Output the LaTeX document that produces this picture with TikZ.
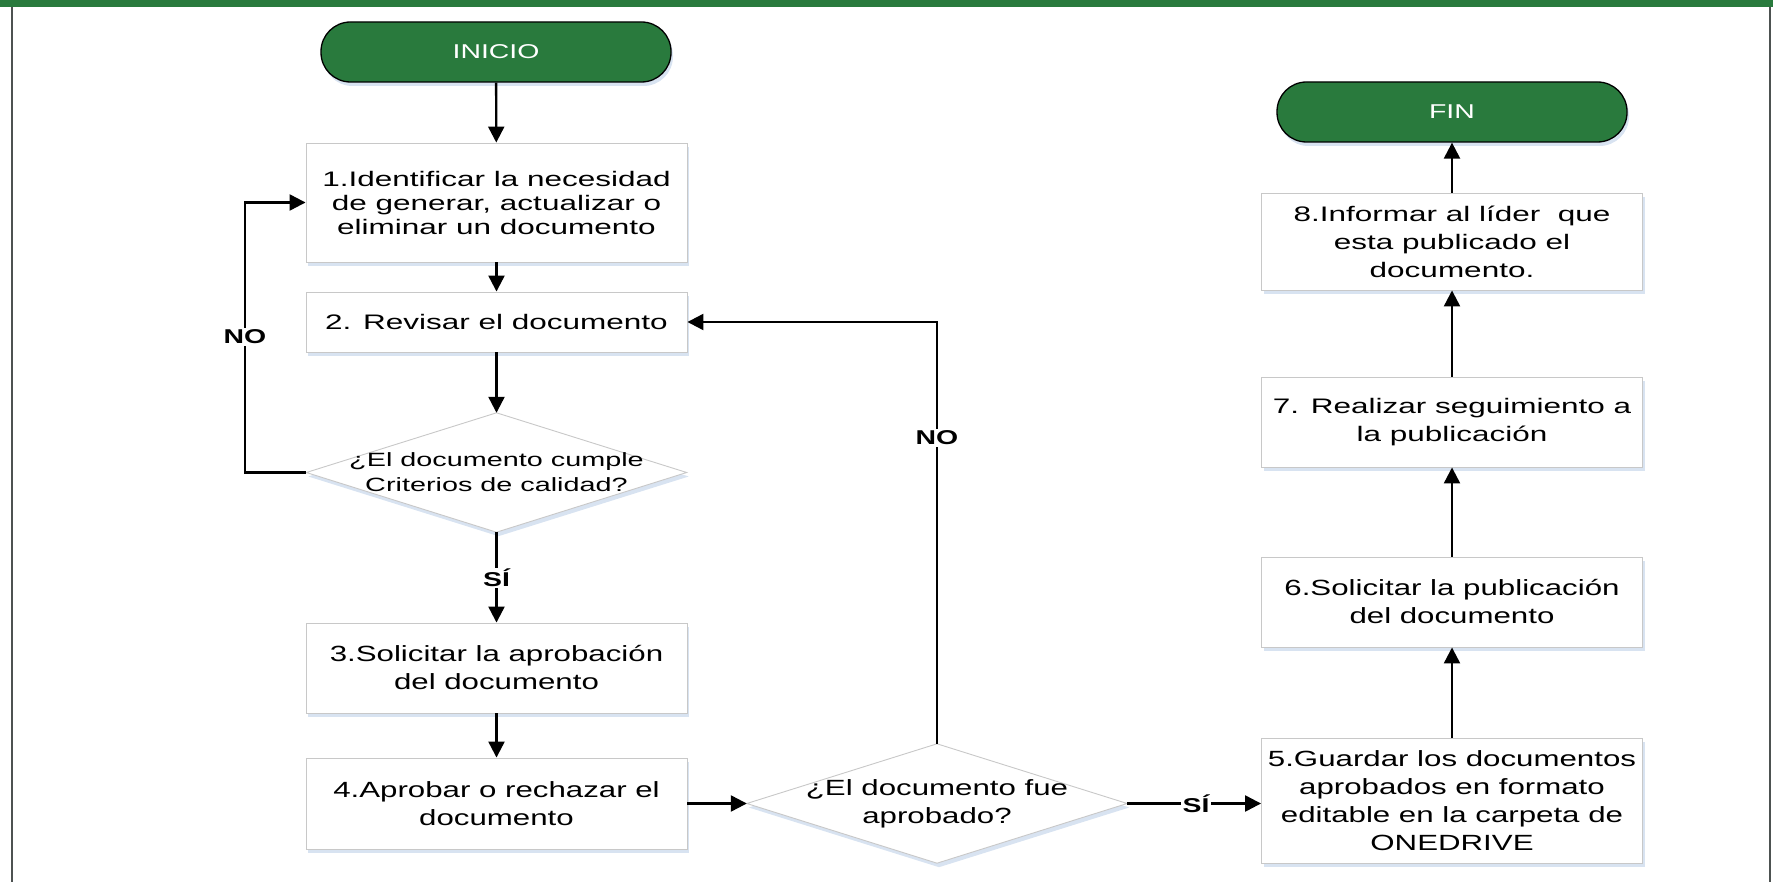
\documentclass[tikz,border=0pt]{standalone}
\usepackage{fontspec}
\setmainfont{Liberation Sans}
\newfontfamily\fA{Liberation Sans}[FakeStretch=1.5]
\newfontfamily\fB{Liberation Sans}[FakeStretch=1.42]
\usetikzlibrary{arrows.meta,shadows,backgrounds}
\definecolor{vgreen}{RGB}{41,122,61}
\definecolor{frameg}{RGB}{77,82,81}
\definecolor{boxline}{RGB}{200,200,200}
\definecolor{shadowb}{RGB}{190,208,232}
\begin{document}
\begin{tikzpicture}[x=1pt,y=-1pt,
  shad/.style={drop shadow={shadow xshift=2pt,shadow yshift=-4pt,fill=shadowb,opacity=0.6}},
  proc/.style={shad,draw=boxline,line width=0.9pt,fill=white,minimum width=381pt,inner sep=0pt,align=center},
  gA/.style={font=\fA\fontsize{21}{28}\selectfont},
  gB/.style={font=\fB\fontsize{22}{28}\selectfont},
  term/.style={shad,draw=black,line width=1.3pt,fill=vgreen,text=white,minimum width=350pt,minimum height=60pt,rounded corners=29.5pt,inner sep=0pt,font=\fB\fontsize{20}{24}\selectfont},
  dtext/.style={rectangle,inner sep=0pt,minimum width=380pt,minimum height=119pt,align=center},
  dshape/.style={shad,draw=boxline,line width=0.9pt,fill=white},
  arr/.style={line width=2.3pt,-{Triangle[length=16pt,width=16pt]}},
  lab/.style={fill=white,inner sep=1.5pt,font=\fB\bfseries\fontsize{20}{20}\selectfont}]
\useasboundingbox (0,0) rectangle (1773,882);
\fill[vgreen] (0,0) rectangle (1773,7.5);
\draw[frameg,line width=2.2pt] (12,7) -- (12,882);
\draw[frameg,line width=2.2pt] (1770,7) -- (1770,882);

% left column
\node[term] (ini) at (496,52) {INICIO};
\node[proc,minimum height=119pt,font=\fA\fontsize{21}{24}\selectfont] (b1) at (496.5,202.5) {1.Identificar la necesidad\\de generar, actualizar o\\eliminar un documento};
\node[proc,gA,minimum height=60pt] (b2) at (496.5,322) {2. Revisar el documento};
\node[dtext,font=\fA\fontsize{19.2}{25}\selectfont] (d1) at (496.5,472.5) {¿El documento cumple\\Criterios de calidad?};
\node[proc,gB,minimum height=90pt] (b3) at (496.5,668) {3.Solicitar la aprobación\\del documento};
\node[proc,gB,minimum height=91pt] (b4) at (496.5,803.5) {4.Aprobar o rechazar el\\documento};
\node[dtext,gB] (d2) at (937,803.5) {¿El documento fue\\aprobado?};

% right column
\node[proc,gB,minimum height=125pt] (b5) at (1452,800.5) {5.Guardar los documentos\\aprobados en formato\\editable en la carpeta de\\ONEDRIVE};
\node[proc,gB,minimum height=90pt] (b6) at (1452,602) {6.Solicitar la publicación\\del documento};
\node[proc,gA,minimum height=90pt] (b7) at (1452,422) {7. Realizar seguimiento a\\la publicación};
\node[proc,gA,minimum height=97pt] (b8) at (1452,241.5) {8.Informar al líder\ \ que\\esta publicado el\\documento.};
\node[term] (fin) at (1452,112) {FIN};

\begin{scope}[on background layer]
\path[dshape] (d1.north) -- (d1.east) -- (d1.south) -- (d1.west) -- cycle;
\path[dshape] (d2.north) -- (d2.east) -- (d2.south) -- (d2.west) -- cycle;
\end{scope}

% connectors
\draw[arr] (ini) -- (b1);
\draw[arr] (b1) -- (b2);
\draw[arr] (b2) -- (d1.north);
\draw[arr] (d1.south) -- (b3);
\draw[arr] (d1.west) -- ++(-61,0) |- (b1.west);
\draw[arr] (b3) -- (b4);
\draw[arr] (b4) -- (d2.west);
\draw[arr] (d2.north) |- (b2.east);
\draw[arr] (d2.east) -- (d2.east -| b5.west);
\draw[arr] (b5) -- (b6);
\draw[arr] (b6) -- (b7);
\draw[arr] (b7) -- (b8);
\draw[arr] (b8) -- (fin);

% labels
\node[lab] (no1) at (245,337) {NO};
\node[lab] (no2) at (937,438) {NO};
\node[lab] (si1) at (496.5,578) {SÍ};
\node[lab] (si2) at (1196,803.5) {SÍ};
\end{tikzpicture}
\end{document}
